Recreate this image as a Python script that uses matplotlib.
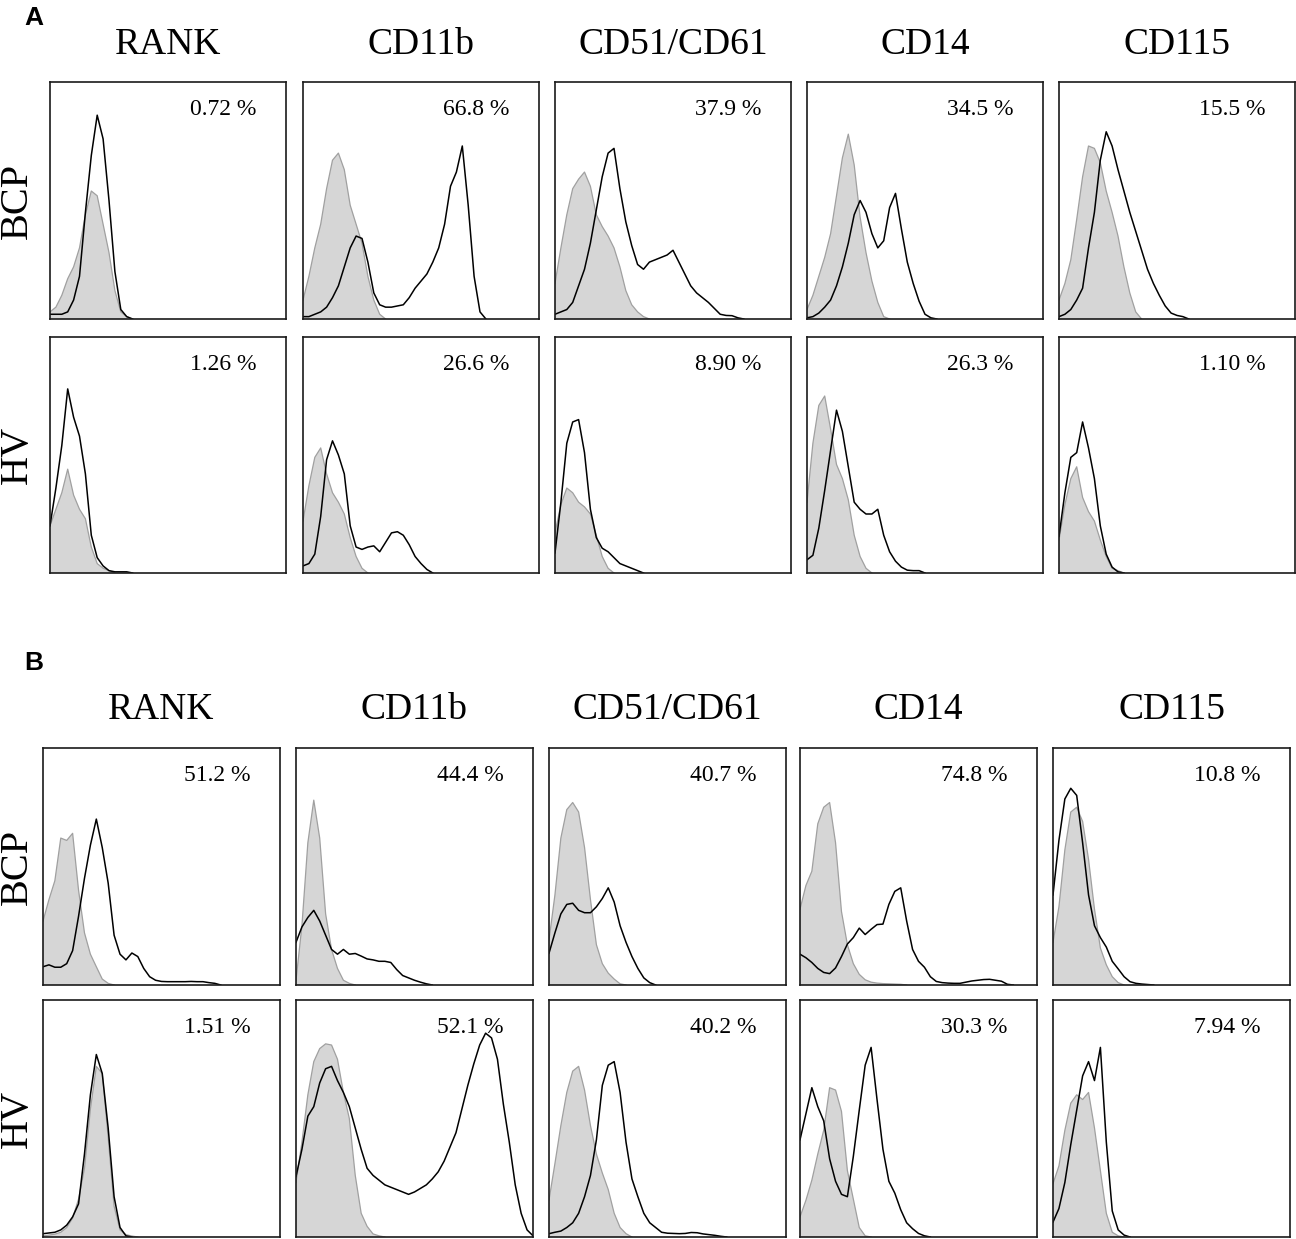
import numpy as np
import matplotlib
matplotlib.use("Agg")
import matplotlib.pyplot as plt

## Marcadores y grupos
markers = ["RANK", "CD11b", "CD51/CD61", "CD14", "CD115"]
groups = ["BCP", "HV"]

## Porcentajes de células positivas
pct_a_bcp = ["0.72 %", "66.8 %", "37.9 %", "34.5 %", "15.5 %"]
pct_a_hv = ["1.26 %", "26.6 %", "8.90 %", "26.3 %", "1.10 %"]
pct_b_bcp = ["51.2 %", "44.4 %", "40.7 %", "74.8 %", "10.8 %"]
pct_b_hv = ["1.51 %", "52.1 %", "40.2 %", "30.3 %", "7.94 %"]

## Canales de fluorescencia (0-1000, paso 25)
canal = np.arange(0, 1001, 25)

## Histogramas (% de la escala), control isotipo (gris) y marcador (negro)
a_bcp_iso = [
    [3, 5, 10, 17, 22, 30, 44, 54, 52, 40, 28, 12, 3, 1, 0],
    [8, 18, 30, 40, 55, 67, 70, 63, 48, 40, 32, 18, 8, 2, 0],
    [15, 30, 44, 55, 59, 62, 56, 44, 39, 35, 30, 22, 12, 6, 3, 1, 0],
    [4, 10, 18, 26, 36, 52, 68, 78, 65, 43, 28, 16, 7, 1, 0],
    [8, 15, 25, 42, 60, 73, 72, 66, 54, 45, 35, 22, 11, 3, 0],
]
a_bcp_mk = [
    [2, 2, 2, 3, 8, 18, 45, 69, 86, 76, 50, 20, 4, 1, 0],
    [1, 1, 2, 3, 5, 9, 14, 22, 30, 35, 34, 24, 11, 6, 5, 5, 5.5, 6, 9, 13, 16,
     19, 24, 30, 40, 56, 62, 73, 48, 18, 3, 0],
    [2, 3, 4, 7, 14, 21, 32, 46, 60, 70, 72, 55, 41, 31, 23, 21, 24, 25, 26,
     27, 29, 24, 19, 14, 11, 9, 7, 4.5, 2, 1.5, 1.4, 0.5, 0],
    [0.5, 1, 2.5, 5, 8, 14, 22, 32, 44, 50, 45, 36, 30, 33, 47, 53, 38, 24, 15,
     7.5, 2, 0.5, 0],
    [1, 2, 4, 8, 13, 30, 45, 67, 79, 73, 63, 54, 45, 37, 29, 21, 15, 10, 5.5,
     2.5, 1.5, 1, 0],
]
a_hv_iso = [
    [20, 27, 34, 44, 33, 27, 23, 11, 4, 2, 1, 0],
    [22, 37, 49, 53, 42, 34, 30, 25, 15, 7, 2, 0],
    [17, 29, 36, 34, 30, 28, 25, 16, 7, 2, 0],
    [30, 55, 71, 75, 61, 46, 40, 31, 16, 7, 2, 0],
    [14, 29, 40, 45, 32, 26, 22, 14, 7, 2, 1, 0],
]
a_hv_mk = [
    [20, 36, 54, 78, 66, 58, 42, 16, 6.5, 3, 1, 0.5, 0.5, 0.5, 0],
    [3, 4, 8, 24, 48, 56, 50, 42, 20, 11, 10, 11, 11.5, 9, 13, 17, 17.5, 16,
     12, 7, 4, 1.5, 0],
    [8.5, 30, 55, 64, 65, 51, 27, 15, 10.5, 9, 6.5, 4, 3, 2, 1, 0],
    [5.6, 7.5, 19, 35, 52, 69, 60, 45, 30, 27, 25, 25, 27, 16, 9, 5, 2.5, 1.2,
     1, 1, 0],
    [15.5, 34, 49, 51, 64, 53, 40, 20, 8, 2.5, 0.5, 0],
]
b_bcp_iso = [
    [27, 36, 44, 62, 61, 64, 40, 22, 13, 7.7, 2.5, 0.7, 0],
    [2, 25, 60, 78, 62, 30, 15, 7, 2, 0.7, 0],
    [19, 38, 62, 74, 77, 73, 58, 36, 17, 9, 5, 2.5, 0.5, 0],
    [32, 42, 48, 68, 75, 77, 60, 31, 17, 9, 4.5, 2.2, 1.2, 0.8, 0.6, 0.5, 0.4,
     0.3, 0],
    [18, 33, 57, 73, 75, 69, 53, 32, 15.6, 8.5, 3.5, 1, 0],
]
b_bcp_mk = [
    [7.7, 8.5, 7.5, 7.5, 9, 14.5, 29, 45, 59, 70, 58, 43, 21, 13, 10.6, 13.5,
     12, 7, 3.5, 2, 1.5, 1.4, 1.4, 1.4, 1.4, 1.5, 1.4, 1.4, 1, 0.7, 0],
    [18, 24.5, 28.5, 31.5, 27, 21, 15, 13, 15, 13, 13.3, 12.2, 11, 10.6, 10,
     10, 9.5, 6.5, 4, 3, 2, 1.2, 0.5, 0],
    [13.4, 22, 30, 34, 34.5, 31.5, 30.5, 30.5, 33, 36.5, 41, 35, 25, 18, 12, 7,
     3, 1, 0],
    [13, 11.5, 9.5, 7, 5.3, 4.8, 7.2, 12, 17.3, 20, 24, 21.3, 23.5, 25.5, 25.7,
     34, 39.5, 41, 27, 15, 10, 7.5, 3.5, 1.5, 1, 0.8, 0.7, 0.7, 1.2, 1.7, 2,
     2.3, 2.4, 2, 1.6, 0.3, 0],
    [38, 61, 78.5, 83, 80, 60, 38, 25, 20, 16, 10, 6.8, 3.5, 1.4, 0.7, 0.4,
     0.2, 0],
]
b_hv_iso = [
    [0.5, 0.8, 1.2, 2, 4, 8, 16, 29, 54, 72, 69, 42, 13, 3, 1, 0.4, 0],
    [23, 40, 60, 74, 79.5, 81.5, 81, 75, 61, 50, 26, 10, 4.5, 1.3, 0.5, 0],
    [15.6, 31, 47, 61, 70, 72, 62, 47, 35, 27, 20, 10, 4, 1.4, 0],
    [8.5, 15.5, 24, 35, 45, 63, 62, 53, 28, 16, 4, 0.5, 0],
    [22.5, 30, 45, 56.5, 60, 58, 61, 46, 28, 10, 2, 0.5, 0],
]
b_hv_mk = [
    [1.4, 1.7, 2, 3, 5, 8.5, 14, 35, 60, 77, 69, 46, 17, 4, 0.5, 0],
    [25.5, 37, 51, 55, 65, 71, 72, 66, 61, 55, 46, 37, 29, 26, 24, 22, 21, 20,
     19, 18, 19, 20.5, 22, 24.5, 27.5, 32, 38, 44, 54, 64, 73, 81, 86, 84, 75,
     56, 40, 22, 10, 3, 0.5],
    [1.4, 2, 2.5, 4, 6, 10, 17, 26, 41, 64, 72.5, 74, 61, 40, 24.5, 17, 10, 6,
     4, 2, 1.6, 1.5, 1.4, 1.5, 1.9, 1.8, 1.3, 1, 0.7, 0.3, 0],
    [41, 52, 63, 55, 49, 33, 23.5, 18, 17, 34, 53.5, 72.5, 80, 58, 37, 23.5,
     18.5, 11.5, 6, 3.5, 1.5, 0.5, 0],
    [6.3, 12, 23, 39, 53.5, 68, 74, 66, 80, 40, 11, 3, 0.8, 0],
]

## Figura
W, H = 1296, 1239
fig = plt.figure(figsize=(W / 100, H / 100), dpi=100)
serif = "Liberation Serif"


def caja(left, top, w, h):
    return [left / W, 1 - (top + h) / H, w / W, h / H]


def histo(ax, iso, mk, pct):
    x_iso = canal[:len(iso)]
    x_mk = canal[:len(mk)]
    ax.fill_between(x_iso, 0, iso, facecolor="#d6d6d6", lw=0)
    ax.plot(x_iso, iso, color="#a0a0a0", lw=0.9)
    ax.plot(x_mk, mk, color="black", lw=1.1)
    ax.set_xlim(0, 1000)
    ax.set_ylim(0, 100)
    ax.set_xticks([])
    ax.set_yticks([])
    for s in ax.spines.values():
        s.set_linewidth(1.2)
        s.set_color("#1a1a1a")
    ax.text(0.735, 0.885, pct, transform=ax.transAxes, ha="center",
            va="center", fontsize=17, family=serif)


paneles = [
    # (izquierdas, ancho, filas[(top, alto)], titulo_y, letra_y, datos)
    ([50, 303, 555, 807, 1059], 236, [(82, 237), (337, 236)], 45, 18,
     [(a_bcp_iso, a_bcp_mk, pct_a_bcp), (a_hv_iso, a_hv_mk, pct_a_hv)], "A"),
    ([43, 296, 549, 800, 1053], 237, [(748, 237), (1000, 237)], 710, 663,
     [(b_bcp_iso, b_bcp_mk, pct_b_bcp), (b_hv_iso, b_hv_mk, pct_b_hv)], "B"),
]

for lefts, w, filas, ty, ly, datos, letra in paneles:
    fig.text(24 / W, 1 - ly / H, letra, fontsize=19, fontweight="bold",
             family="Liberation Sans", ha="left", va="center")
    for j, m in enumerate(markers):
        fig.text((lefts[j] + w / 2) / W, 1 - ty / H, m, fontsize=27,
                 family=serif, ha="center", va="center")
    for i, (top, h) in enumerate(filas):
        fig.text(17 / W, 1 - (top + h / 2) / H, groups[i], fontsize=29,
                 family=serif, rotation=90, ha="center", va="center")
        iso_l, mk_l, pct_l = datos[i]
        for j in range(5):
            ax = fig.add_axes(caja(lefts[j], top, w, h))
            histo(ax, iso_l[j], mk_l[j], pct_l[j])

fig.savefig("out.png", dpi=100)
